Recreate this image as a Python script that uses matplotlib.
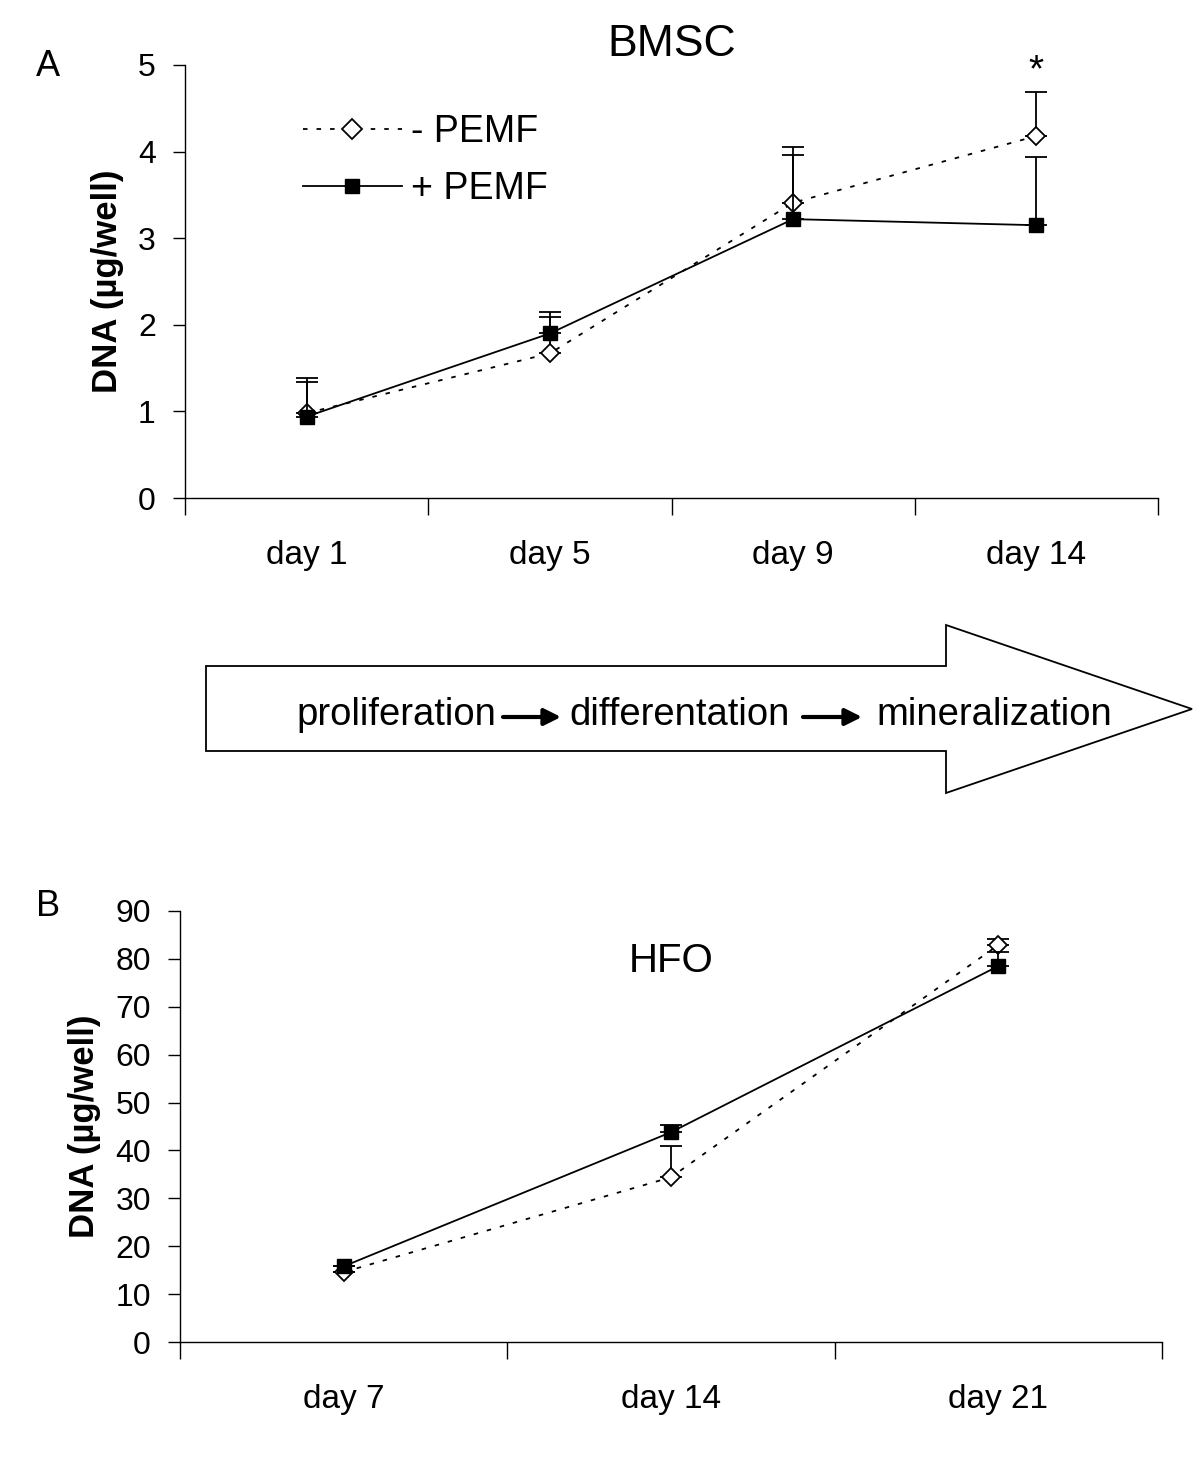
import matplotlib
matplotlib.use("Agg")
import matplotlib.pyplot as plt
from matplotlib.patches import Polygon
from matplotlib.lines import Line2D
import numpy as np

plt.rcParams['font.family'] = ['Liberation Sans', 'DejaVu Sans']

# panel A: BMSC
days_a = ['day 1', 'day 5', 'day 9', 'day 14']
minus_a = [0.98, 1.67, 3.41, 4.18]
minus_a_err = [0.41, 0.48, 0.64, 0.51]
plus_a = [0.94, 1.90, 3.22, 3.15]
plus_a_err = [0.40, 0.19, 0.74, 0.79]

# panel B: HFO
days_b = ['day 7', 'day 14', 'day 21']
minus_b = [14.6, 34.4, 82.9]
minus_b_err = [0.0, 6.5, 1.2]
plus_b = [15.8, 43.8, 78.5]
plus_b_err = [0.0, 1.5, 2.9]

W, H = 1200, 1465
fig = plt.figure(figsize=(W / 100, H / 100), dpi=100)

DASH = (0, (2.5, 5))
MINUS_STYLE = dict(color='black', lw=1.3, ls=DASH, marker='D', ms=9,
                   mfc='white', mec='black', mew=1.3)
PLUS_STYLE = dict(color='black', lw=1.3, ls='-', marker='s', ms=9.5,
                  mfc='black', mec='black')


def px_axes(x0, y0, x1, y1):
    return fig.add_axes([x0 / W, 1 - y1 / H, (x1 - x0) / W, (y1 - y0) / H])


def draw_panel(ax, cats, m, m_err, p, p_err, ymax, ystep):
    x = np.arange(len(cats))
    ax.errorbar(x, m, yerr=[np.zeros(len(m)), m_err], capsize=8, capthick=1.3,
                elinewidth=1.3, zorder=3, **MINUS_STYLE)
    ax.errorbar(x, p, yerr=[np.zeros(len(p)), p_err], capsize=8, capthick=1.3,
                elinewidth=1.3, zorder=4, **PLUS_STYLE)
    ax.set_xlim(-0.5, len(cats) - 0.5)
    ax.set_ylim(0, ymax)
    ax.set_yticks(np.arange(0, ymax + ystep / 2, ystep))
    ax.set_xticks(np.arange(-0.5, len(cats)), labels=[])
    ax.set_xticks(x, labels=cats, minor=True)
    ax.tick_params(axis='x', which='major', length=12, width=1, direction='out')
    ax.tick_params(axis='x', which='minor', length=0, pad=30, labelsize=24)
    ax.tick_params(axis='y', length=9, width=1, pad=12, labelsize=23)
    for s in ['top', 'right']:
        ax.spines[s].set_visible(False)
    for s in ['left', 'bottom']:
        ax.spines[s].set_linewidth(1)
    ax.set_ylabel('DNA (µg/well)', fontsize=25, fontweight='bold', labelpad=10)


axa = px_axes(185, 65, 1158, 498)
draw_panel(axa, days_a, minus_a, minus_a_err, plus_a, plus_a_err, 5, 1)
axa.set_title('BMSC', fontsize=32, pad=1)
axa.annotate('*', xy=(3, minus_a[3] + minus_a_err[3]), xytext=(0, 2),
             textcoords='offset points', ha='center', va='bottom', fontsize=28)
handles = [Line2D([], [], **{**MINUS_STYLE, 'ms': 10}),
           Line2D([], [], **{**PLUS_STYLE, 'ms': 10.5})]
axa.legend(handles, ['- PEMF', '+ PEMF'], loc='upper left',
           bbox_to_anchor=(0.121, 0.886), frameon=False, borderpad=0,
           borderaxespad=0, fontsize=27, handlelength=2.65, handletextpad=0.25,
           labelspacing=0.55, numpoints=1)

axb = px_axes(180, 911, 1162, 1342)
draw_panel(axb, days_b, minus_b, minus_b_err, plus_b, plus_b_err, 90, 10)
axb.text(0.5, 0.885, 'HFO', transform=axb.transAxes, ha='center', va='center',
         fontsize=29)

# panel letters and process arrow on an overlay in pixel coords
ov = fig.add_axes([0, 0, 1, 1], zorder=-1)
ov.set_xlim(0, W)
ov.set_ylim(H, 0)
ov.axis('off')
ov.text(48, 67, 'A', fontsize=26, ha='center', va='center')
ov.text(48, 906, 'B', fontsize=26, ha='center', va='center')

arrow = Polygon([(206, 666), (946, 666), (946, 625), (1192, 709),
                 (946, 793), (946, 751), (206, 751)], closed=True,
                facecolor='white', edgecolor='black', lw=1.3)
ov.add_patch(arrow)
ov.text(296, 725, 'proliferation', fontsize=27.5, ha='left', va='baseline')
ov.text(569, 725, 'differentation', fontsize=27.5, ha='left', va='baseline')
ov.text(876, 725, 'mineralization', fontsize=27.5, ha='left', va='baseline')
for x0, x1 in [(503, 561), (803, 862)]:
    ov.annotate('', xy=(x1, 717), xytext=(x0, 717),
                arrowprops=dict(arrowstyle='-|>,head_length=1.0,head_width=0.5',
                                color='black', lw=3, shrinkA=0, shrinkB=0))

fig.savefig('out.png', dpi=100, facecolor='white')
